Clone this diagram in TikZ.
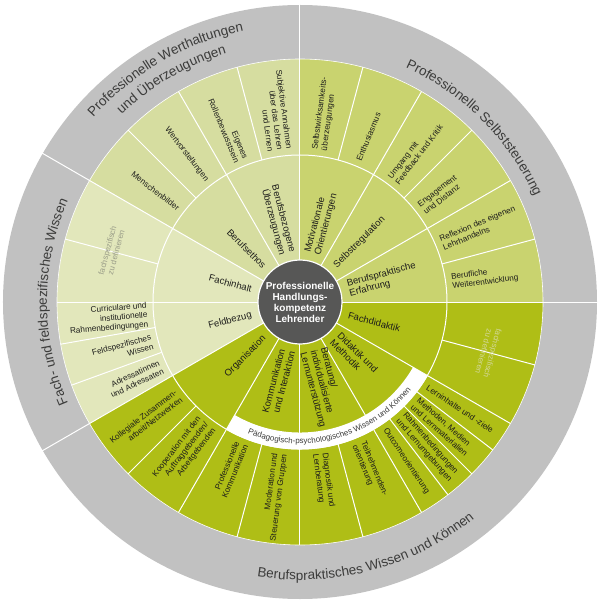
\documentclass[tikz,border=0pt]{standalone}
\usepackage{fontspec}
\setmainfont{Liberation Sans}
\usetikzlibrary{decorations.text}

\definecolor{ringgrey}{HTML}{C1C1C1}
\definecolor{werth}{HTML}{D6DDA0}
\definecolor{selbst}{HTML}{C9D36F}
\definecolor{fachfeld}{HTML}{E2E7BB}
\definecolor{beruf}{HTML}{AFBE16}
\definecolor{kerngrey}{HTML}{575756}
\definecolor{itemtext}{HTML}{1D1D1B}
\definecolor{ringtext}{HTML}{3C3C3B}
\definecolor{hintgrey}{HTML}{9A9D88}
\definecolor{hintpale}{HTML}{D3D89A}

\newcommand{\ringfont}{\fontsize{13.5}{16}\selectfont\color{ringtext}}
\newcommand{\bandfont}{\fontsize{8}{9}\selectfont\color{ringtext}}

\tikzset{
  sep/.style={white, line width=1pt},
  outitem/.style={font=\fontsize{8.2}{9.5}\selectfont, text=itemtext, inner sep=0pt},
  initem/.style={font=\fontsize{9.5}{10.5}\selectfont, text=itemtext, inner sep=0pt},
  toin/.style={anchor=east, align=right},
  toout/.style={anchor=west, align=left},
  hint/.style={font=\fontsize{8}{9}\selectfont, inner sep=0pt, align=center},
}

\begin{document}
\begin{tikzpicture}[x=1pt,y=1pt]
\useasboundingbox (-300,-303) rectangle (300,302);

% outer grey ring and the four coloured quarters
\fill[ringgrey] (0,0) circle[radius=297pt];
\fill[selbst] (0,0) -- (0:243) arc[start angle=0, end angle=90, radius=243pt] -- cycle;
\fill[werth] (0,0) -- (90:243) arc[start angle=90, end angle=150, radius=243pt] -- cycle;
\fill[fachfeld] (0,0) -- (150:243) arc[start angle=150, end angle=210, radius=243pt] -- cycle;
\fill[beruf] (0,0) -- (210:243) arc[start angle=210, end angle=360, radius=243pt] -- cycle;

% borders
\draw[white, line width=0.6pt] (0,0) circle[radius=243pt];
\draw[sep] (0,0) circle[radius=147pt];
\foreach \a in {0,90,150,210}
  \draw[sep] (\a:42) -- (\a:298);
\foreach \a in {30,60,120,180,240,270,300,330}
  \draw[sep] (\a:42) -- (\a:243);
\foreach \a in {15,45,75,105,135,165,190,200,225,255,285,307.5,315,322.5,345}
  \draw[sep] (\a:147) -- (\a:243);

% white band
\draw[white, line width=17pt] (240:139) arc[start angle=240, end angle=330, radius=139pt];
\path[decorate, decoration={text along path, text align=center,
  text={|\bandfont|Pädagogisch-psychologisches Wissen und Können}}]
  (240:141.5) arc[start angle=240, end angle=330, radius=141.5pt];

% ring labels
\path[decorate, decoration={text along path, text align=center,
  text={|\ringfont|Professionelle Werthaltungen}}]
  (150:277) arc[start angle=150, end angle=90, radius=277pt];
\path[decorate, decoration={text along path, text align=center,
  text={|\ringfont|und Überzeugungen}}]
  (150:259) arc[start angle=150, end angle=90, radius=259pt];
\path[decorate, decoration={text along path, text align=center,
  text={|\ringfont|Professionelle Selbststeuerung}}]
  (90:257) arc[start angle=90, end angle=0, radius=257pt];
\path[decorate, decoration={text along path, text align=center,
  text={|\ringfont|Fach- und feldspezifisches Wissen}}]
  (210:253) arc[start angle=210, end angle=150, radius=253pt];
\path[decorate, decoration={text along path, text align=center,
  text={|\ringfont|Berufspraktisches Wissen und Können}}]
  (210:278) arc[start angle=210, end angle=360, radius=278pt];

% Werthaltungen
\node[outitem, toin, rotate=-82.5] (subj) at (97.5:153) {Subjektive Annahmen\\über das Lehren\\und Lernen};
\node[outitem, toin, rotate=-67.5] (rolle) at (112.5:153) {Eigenes\\Rollenbewusstsein};
\node[outitem, toin, rotate=-52.5] (wert) at (127.5:153) {Wertvorstellungen};
\node[outitem, toin, rotate=-37.5] (mensch) at (142.5:153) {Menschenbilder};
\node[initem, toin, rotate=-75] (ueberz) at (105:50) {Berufsbezogene\\Überzeugungen};
\node[initem, toin, rotate=-45] (ethos) at (135:50) {Berufsethos};

% Selbststeuerung
\node[outitem, toout, rotate=82.5] (wirk) at (82.5:153) {Selbstwirksamkeits-\\überzeugungen};
\node[outitem, toout, rotate=67.5] (enth) at (67.5:153) {Enthusiasmus};
\node[outitem, toout, rotate=52.5] (feedb) at (52.5:153) {Umgang mit\\Feedback und Kritik};
\node[outitem, toout, rotate=37.5] (engag) at (37.5:153) {Engagement\\und Distanz};
\node[outitem, toout, rotate=22.5] (refl) at (22.5:153) {Reflexion des eigenen\\Lehrhandelns};
\node[outitem, toout, rotate=7.5] (weiter) at (7.5:153) {Berufliche\\Weiterentwicklung};
\node[initem, toout, rotate=75] (motiv) at (75:50) {Motivationale\\Orientierungen};
\node[initem, toout, rotate=45] (regul) at (45:50) {Selbstregulation};
\node[initem, toout, rotate=15] (erfahr) at (15:50) {Berufspraktische\\Erfahrung};

% Fach- und feldspezifisches Wissen
\node[hint, text=hintgrey, rotate=75] (fachdef) at (165:195) {fachspezifisch\\zu definieren};
\node[outitem, toin, rotate=5] (curri) at (185:153) {Curriculare und\\institutionelle\\Rahmenbedingungen};
\node[outitem, toin, rotate=15] (feldw) at (195:153) {Feldspezifisches\\Wissen};
\node[outitem, toin, rotate=25] (adress) at (205:153) {Adressatinnen\\und Adressaten};
\node[initem, toin, rotate=-15] (inhalt) at (165:50) {Fachinhalt};
\node[initem, toin, rotate=15] (feldb) at (195:50) {Feldbezug};

% Berufspraktisches Wissen und Koennen
\node[outitem, toin, rotate=37.5] (koll) at (217.5:153) {Kollegiale Zusammen-\\arbeit/Netzwerken};
\node[outitem, toin, rotate=52.5] (koop) at (232.5:153) {Kooperation mit den\\Auftraggebenden/\\Arbeitgebenden};
\node[outitem, toin, rotate=67.5] (pkomm) at (247.5:153) {Professionelle\\Kommunikation};
\node[outitem, toin, rotate=82.5] (moder) at (262.5:153) {Moderation und\\Steuerung von Gruppen};
\node[outitem, toout, rotate=-82.5] (diagn) at (277.5:153) {Diagnostik und\\Lernberatung};
\node[outitem, toout, rotate=-67.5] (teiln) at (292.5:153) {Teilnehmenden-\\orientierung};
\node[outitem, toout, rotate=-56.25] (outc) at (303.75:153) {Outcomeorientierung};
\node[outitem, toout, rotate=-48.75] (rahmen) at (311.25:153) {Rahmenbedingungen\\und Lernumgebungen};
\node[outitem, toout, rotate=-41.25] (medien) at (318.75:153) {Methoden, Medien\\und Lernmaterialien};
\node[outitem, toout, rotate=-33.75] (ziele) at (326.25:153) {Lerninhalte und -ziele};
\node[hint, text=hintpale, rotate=255] (fachdef2) at (345:195) {fachspezifisch\\zu definieren};
\node[initem, toin, rotate=45] (organ) at (225:50) {Organisation};
\node[initem, toin, rotate=75] (kommi) at (255:50) {Kommunikation\\und Interaktion};
\node[initem, toout, rotate=-75] (berat) at (285:50) {Beratung/\\individualisierte\\Lernunterstützung};
\node[initem, toout, rotate=-45] (didak) at (315:50) {Didaktik und\\Methodik};
\node[initem, toout, rotate=-15] (fachd) at (345:50) {Fachdidaktik};

% centre
\node[circle, fill=kerngrey, draw=white, line width=1.2pt, minimum size=84pt, inner sep=0pt,
  text=white, align=center, font=\bfseries\fontsize{10}{11}\selectfont] (kern) at (0,0)
  {Professionelle\\Handlungs-\\kompetenz\\Lehrender};
\end{tikzpicture}
\end{document}
